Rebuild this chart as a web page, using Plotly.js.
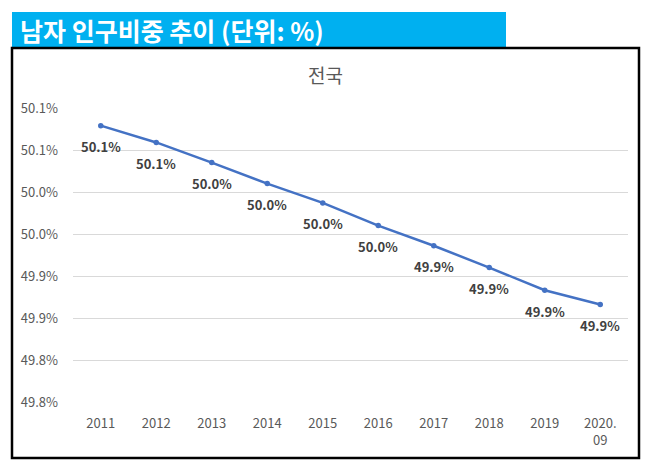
<!DOCTYPE html>
<html>
<head>
<meta charset="utf-8">
<script src="https://cdn.plot.ly/plotly-3.0.1.min.js"></script>
<style>
  html, body { margin: 0; padding: 0; background: #fff; }
  #chart { width: 652px; height: 472px; }
</style>
</head>
<body>
<div id="chart"></div>
<script>
// 남자 인구비중 (%), 전국
var years = ["2011", "2012", "2013", "2014", "2015", "2016", "2017", "2018", "2019", "2020.<br>09"];
var maleShare = [50.079, 50.059, 50.035, 50.010, 49.987, 49.960, 49.936, 49.910, 49.883, 49.866];
var valueLabels = ["50.1%", "50.1%", "50.0%", "50.0%", "50.0%", "50.0%", "49.9%", "49.9%", "49.9%", "49.9%"];
var tickVals = [50.10, 50.05, 50.00, 49.95, 49.90, 49.85, 49.80, 49.75];
var tickLabels = ["50.1%", "50.1%", "50.0%", "50.0%", "49.9%", "49.9%", "49.8%", "49.8%"];

var W = 652, H = 472;
var ML = 73, MR = 24, MT = 108, MB = 70;
var PW = W - ML - MR, PH = H - MT - MB;
function px(x) { return (x - ML) / PW; }
function py(y) { return (H - MB - y) / PH; }

var FONT = "'Noto Sans CJK KR', 'Noto Sans', sans-serif";

var trace = {
	x: years,
	y: maleShare,
	type: "scatter",
	mode: "lines+markers",
	line: { color: "#4472C4", width: 2.5 },
	marker: { color: "#4472C4", size: 5.5 },
	cliponaxis: false,
	hoverinfo: "skip"
};

// data labels sit a bit below each point (x = category index)
var labelNotes = years.map(function (yr, i) {
	return {
		x: i, y: maleShare[i], xref: "x", yref: "y",
		yshift: -21, showarrow: false,
		text: "<b>" + valueLabels[i] + "</b>",
		font: { family: FONT, size: 13, color: "#404040" }
	};
});

var layout = {
	width: W,
	height: H,
	margin: { l: ML, r: MR, t: MT, b: MB },
	paper_bgcolor: "#ffffff",
	plot_bgcolor: "#ffffff",
	showlegend: false,
	font: { family: FONT, size: 13, color: "#595959" },
	xaxis: {
		type: "category",
		range: [-0.5, years.length - 0.5],
		showgrid: false,
		zeroline: false,
		showline: false,
		ticks: "",
		ticklabelstandoff: 12,
		tickfont: { family: FONT, size: 13, color: "#595959" },
		fixedrange: true
	},
	yaxis: {
		range: [49.75, 50.10],
		tickvals: tickVals,
		ticktext: tickLabels,
		showgrid: true,
		gridcolor: "#d9d9d9",
		gridwidth: 1,
		zeroline: false,
		showline: false,
		ticks: "",
		ticklabelstandoff: 14,
		tickfont: { family: FONT, size: 13, color: "#595959" },
		fixedrange: true
	},
	shapes: [
		{
			type: "rect", xref: "paper", yref: "paper", layer: "below",
			x0: px(12), x1: px(506), y0: py(47), y1: py(12),
			fillcolor: "#00B0F0", line: { width: 0 }
		},
		{
			type: "rect", xref: "paper", yref: "paper", layer: "below",
			x0: px(12), x1: px(639), y0: py(458), y1: py(48),
			fillcolor: "rgba(0,0,0,0)", line: { color: "#000000", width: 2.5 }
		}
	],
	annotations: [
		{
			xref: "paper", yref: "paper", x: px(18), y: py(30),
			xanchor: "left", yanchor: "middle", showarrow: false,
			text: "<b>남자 인구비중 추이 (단위: %)</b>",
			font: { family: FONT, size: 25, color: "#ffffff" }
		},
		{
			xref: "paper", yref: "paper", x: px(325), y: py(74),
			xanchor: "center", yanchor: "middle", showarrow: false,
			text: "전국",
			font: { family: FONT, size: 19, color: "#595959" }
		}
	].concat(labelNotes)
};

Plotly.newPlot("chart", [trace], layout, { displayModeBar: false, staticPlot: true });
</script>
</body>
</html>
